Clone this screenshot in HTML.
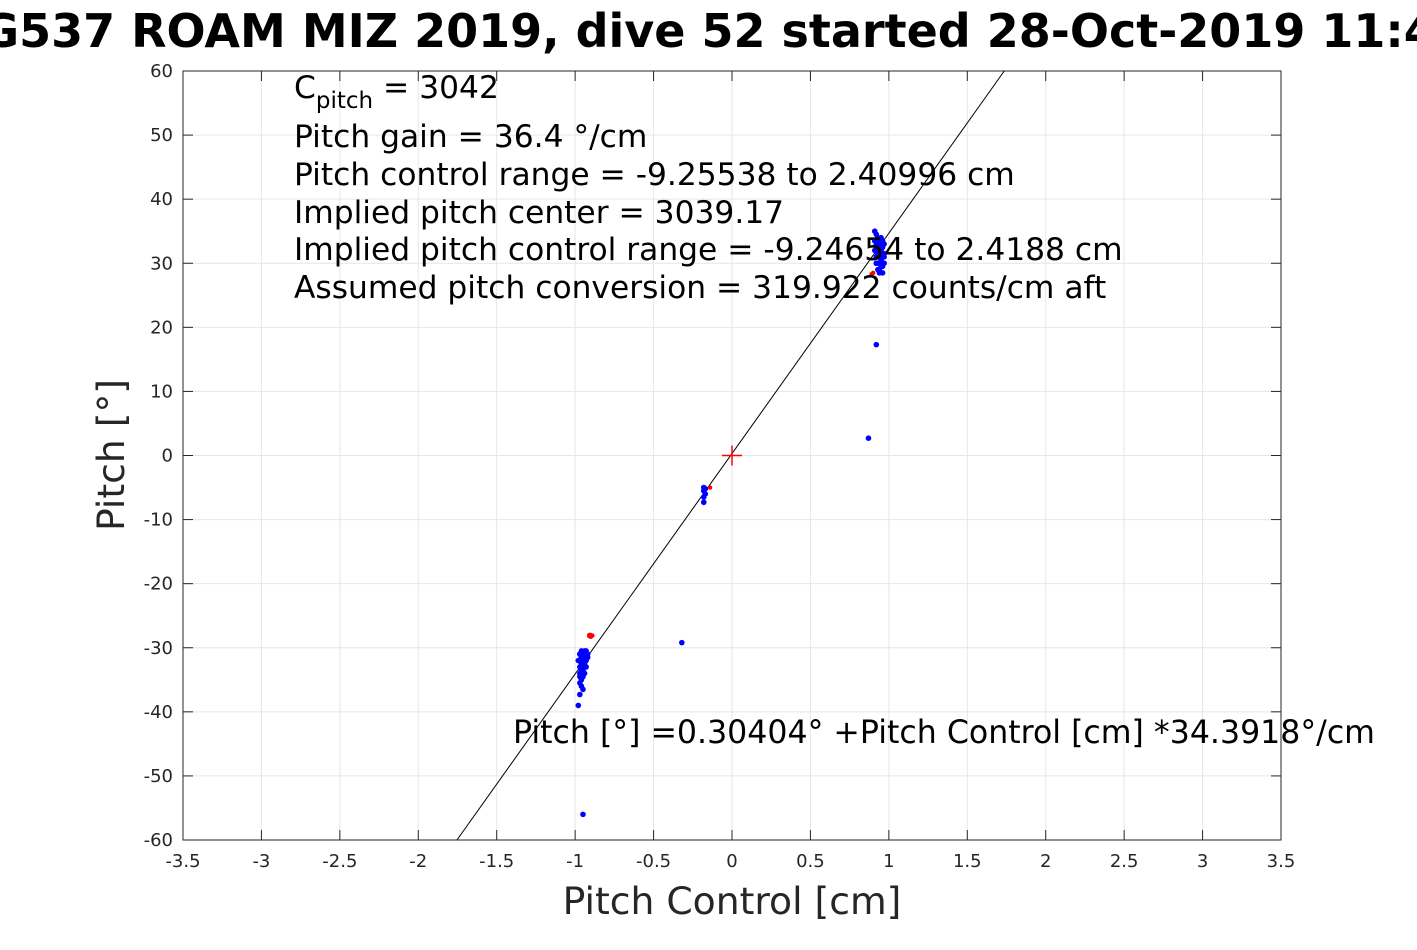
<!DOCTYPE html>
<html><head><meta charset="utf-8"><style>
body{margin:0;background:#fff;}
svg text{font-family:"DejaVu Sans","Liberation Sans",sans-serif;}
</style></head><body>
<svg width="1417" height="945" xmlns="http://www.w3.org/2000/svg">
<rect width="1417" height="945" fill="#fff"/>
<text x="708" y="47" text-anchor="middle" font-size="46" font-weight="bold">SG537 ROAM MIZ 2019, dive 52 started 28-Oct-2019 11:48</text>
<g id="grid"></g>
<g id="ticks"></g>
<rect x="183" y="71" width="1098" height="769" fill="none" stroke="#262626" stroke-width="1"/>
<g id="fit"></g>
<g id="marks"></g>
<g font-size="31.3" fill="#000">
<text x="294" y="98">C<tspan font-size="23" dy="10">pitch</tspan><tspan dy="-10"> = 3042</tspan></text>
<text x="294" y="147">Pitch gain = 36.4 °/cm</text>
<text x="294" y="185">Pitch control range = -9.25538 to 2.40996 cm</text>
<text x="294" y="223">Implied pitch center = 3039.17</text>
<text x="294" y="260">Implied pitch control range = -9.24654 to 2.4188 cm</text>
<text x="294" y="298">Assumed pitch conversion = 319.922 counts/cm aft</text>
</g>
<text x="513" y="743" font-size="31.6">Pitch [°] =0.30404° +Pitch Control [cm] *34.3918°/cm</text>
<text x="732" y="914" text-anchor="middle" font-size="37.7" fill="#262626">Pitch Control [cm]</text>
<text transform="translate(124,455) rotate(-90)" text-anchor="middle" font-size="37.7" fill="#262626">Pitch [°]</text>
</svg>
<script>
const xTicks=[-3.5,-3,-2.5,-2,-1.5,-1,-0.5,0,0.5,1,1.5,2,2.5,3,3.5];
const yTicks=[-60,-50,-40,-30,-20,-10,0,10,20,30,40,50,60];
const fitIntercept=0.30404;
const fitSlope=34.3918;
const blueX=[
-0.97,-0.96,-0.95,-0.94,-0.93,-0.92,-0.97,-0.96,-0.95,-0.94,
-0.93,-0.96,-0.95,-0.94,-0.97,-0.96,-0.95,-0.94,-0.96,-0.95,
-0.97,-0.96,-0.97,-0.98,-0.97,-0.96,-0.94,-0.93,-0.92,-0.93,
-0.97,-0.95,-0.98,-0.97,-0.96,-0.95,-0.94,-0.93,-0.96,-0.95,
0.92,0.93,0.94,0.95,0.96,0.97,0.92,0.93,0.94,0.95,
0.96,0.91,0.93,0.95,0.97,0.92,0.94,0.96,0.93,0.95,
0.94,0.91,0.92,0.96,0.95,0.97,0.93,0.94,0.96,0.92,
0.91,0.92,0.94,0.96,0.97,0.93,0.95,0.92,0.96,0.94,
-0.18,-0.18,-0.17,-0.18,-0.17,-0.18,-0.32,0.92,0.87,-0.95];
const blueY=[
-31,-31.5,-31,-30.5,-30.5,-31,-32,-32.5,-32,-31.5,
-31.5,-33,-33,-32.5,-34,-34,-33.5,-33,-35,-34.5,
-35.5,-36,-33,-32,-31,-30.5,-34,-33,-31.5,-32,
-37.3,-36.5,-39,-34.5,-33.5,-32.5,-32,-31,-30.8,-31.8,
31,31.5,31,30.5,31,30,32,32.5,33,32,
31,33.5,34,34,33,34.5,33.5,32.5,30,30.5,
29,35,30,29.5,32,31,29,31,33,33,
32,31,30,33.5,31.5,31.5,29.5,30,28.5,28.5,
-5,-5.5,-6,-6.5,-5.2,-7.3,-29.2,17.3,2.7,-56];
const redX=[-0.91,-0.9,-0.89,-0.91,-0.9,0.89,0.9,-0.14];
const redY=[-28,-28,-28.1,-28.2,-28.3,28.3,28.5,-5];
const X0=183,X1=1281,Y0=840,Y1=71;
const sx=v=>X0+(v+3.5)/7*(X1-X0);
const sy=v=>Y0-(v+60)/120*(Y0-Y1);
const NS="http://www.w3.org/2000/svg";
function mk(t,a,p){const e=document.createElementNS(NS,t);for(const k in a)e.setAttribute(k,a[k]);p.appendChild(e);return e;}
const grid=document.getElementById('grid'),ticks=document.getElementById('ticks'),fit=document.getElementById('fit'),marks=document.getElementById('marks');
xTicks.forEach(v=>{const x=sx(v);
 const g=mk('line',{x1:x,x2:x,y1:Y1,y2:Y0,stroke:'#e6e6e6'},grid);
 
 
 mk('line',{x1:x,x2:x,y1:Y0,y2:Y0-10,stroke:'#262626'},ticks);
 mk('line',{x1:x,x2:x,y1:Y1,y2:Y1+10,stroke:'#262626'},ticks);
 const t=mk('text',{x:x,y:Y0+27,'text-anchor':'middle','font-size':18,fill:'#262626'},ticks);t.textContent=v;
 
 });
yTicks.forEach(v=>{const y=sy(v);
 const g=mk('line',{x1:X0,x2:X1,y1:y,y2:y,stroke:'#e6e6e6'},grid);
 
 
 mk('line',{x1:X0,x2:X0+10,y1:y,y2:y,stroke:'#262626'},ticks);
 mk('line',{x1:X1,x2:X1-10,y1:y,y2:y,stroke:'#262626'},ticks);
 const t=mk('text',{x:X0-10,y:y+6,'text-anchor':'end','font-size':18,fill:'#262626'},ticks);t.textContent=v;
 
 });
const xa=(-60-fitIntercept)/fitSlope,xb=(60-fitIntercept)/fitSlope;
const fl=mk('line',{x1:sx(xa),y1:sy(-60),x2:sx(xb),y2:sy(60),stroke:'#000','stroke-width':1},fit);


blueX.forEach((v,i)=>{const c=mk('circle',{cx:sx(v),cy:sy(blueY[i]),r:2.8,fill:'#0000ff'},marks);
 
 });
redX.forEach((v,i)=>{const c=mk('circle',{cx:sx(v),cy:sy(redY[i]),r:2.2,fill:'#ff0000'},marks);
 
 });
const cx=sx(0),cy=sy(0);
const p=mk('path',{d:`M${cx-10},${cy}H${cx+10}M${cx},${cy-10}V${cy+10}`,stroke:'#ff0000','stroke-width':1.5},marks);


</script>
</body></html>
